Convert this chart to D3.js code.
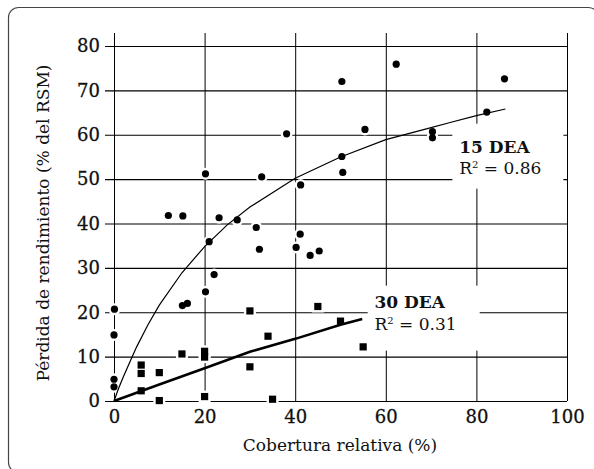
<!DOCTYPE html>
<html>
<head>
<meta charset="utf-8">
<script src="https://cdn.jsdelivr.net/npm/d3@7"></script>
<style>
  body { margin: 0; background: #fff; }
  text { font-family: "DejaVu Serif", serif; fill: #111; }
</style>
</head>
<body>
<div id="chart"></div>
<script>
// 15 DEA (circles)
var dea15 = [
  [0, 3.2], [0, 4.9], [0, 14.9], [0.1, 20.7], [12, 41.8], [15.2, 41.7],
  [15.1, 21.5], [16.2, 22.0], [20.2, 24.6], [20.2, 51.2], [21.0, 35.9],
  [22.1, 28.5], [23.2, 41.3], [27.2, 40.8], [31.4, 39.1], [32.1, 34.2],
  [32.6, 50.5], [38.1, 60.2], [40.2, 34.6], [41.1, 37.6], [41.2, 48.7],
  [43.3, 32.8], [45.3, 33.8], [50.3, 55.1], [50.5, 51.5], [50.3, 72.0],
  [55.4, 61.2], [62.3, 75.9], [70.3, 60.7], [70.3, 59.3], [82.3, 65.1],
  [86.2, 72.6]
];
// 30 DEA (squares)
var dea30 = [
  [6, 8.1], [6, 6.2], [6, 2.3], [10, 6.4], [10, 0.1], [15, 10.6],
  [20, 11.2], [20, 9.9], [20, 1.0], [30, 20.3], [30, 7.7], [34, 14.6],
  [35, 0.4], [45, 21.3], [50, 18.0], [55, 12.2]
];
// fitted curves
var fit15 = [
  [0, 0], [1, 2.8], [2, 5.3], [3.5, 8.8], [5, 12.2], [7.5, 17.2], [10, 21.6],
  [15, 28.9], [20, 34.8], [25, 39.7], [30, 43.7], [40, 50.2], [50, 55.0],
  [60, 58.9], [70, 61.6], [74, 62.7], [80, 64.3], [86.4, 65.8]
];
var fit30 = [
  [0, 0], [10, 3.7], [20, 7.4], [30, 11.1], [40, 14.0], [50, 17.2], [54.8, 18.5]
];
var xTicks = [0, 20, 40, 60, 80, 100];
var yTicks = [0, 10, 20, 30, 40, 50, 60, 70, 80];
var labels = [
  { name: "15 DEA", r2: "0.86" },
  { name: "30 DEA", r2: "0.31" }
];

var svgWidth = 594, svgHeight = 469;
var margin = { top: 46, left: 114 };
var width = 453, height = 355;

var svg = d3.select("#chart").append("svg")
  .attr("width", svgWidth)
  .attr("height", svgHeight);

// rounded frame
svg.append("rect")
  .attr("x", 8.5).attr("y", 7.5)
  .attr("width", 590).attr("height", 465)
  .attr("rx", 10)
  .attr("fill", "none")
  .attr("stroke", "#444")
  .attr("stroke-width", 1.2);

var g = svg.append("g")
  .attr("transform", `translate(${margin.left}, ${margin.top})`);

var x = d3.scaleLinear().domain([0, 100]).range([0, width]);
var y = d3.scaleLinear().domain([0, 80]).range([height, 0]);

// grid: horizontal lines with outward ticks
g.append("g")
  .attr("transform", "translate(-9,0)")
  .call(d3.axisLeft(y).tickValues(yTicks).tickSize(-(width + 9)).tickSizeOuter(0))
  .call(a => a.select(".domain").remove())
  .call(a => a.selectAll("line").attr("stroke", "#000").attr("stroke-width", 1.1))
  .call(a => a.selectAll("text").attr("font-size", 18).attr("x", -5)
    .attr("font-family", "DejaVu Serif").attr("fill", "#111")
    .attr("stroke", "#111").attr("stroke-width", 0.3));

// vertical lines
g.append("g")
  .attr("transform", `translate(0, ${height})`)
  .call(d3.axisBottom(x).tickValues(xTicks).tickSize(-(height + 13)).tickSizeOuter(0).tickPadding(9))
  .call(a => a.select(".domain").remove())
  .call(a => a.selectAll("line").attr("stroke", "#000"))
  .call(a => a.selectAll("text").attr("font-size", 18)
    .attr("font-family", "DejaVu Serif").attr("fill", "#111")
    .attr("stroke", "#111").attr("stroke-width", 0.3));

// white boxes behind the labels
var boxes = [
  { x0: 74.7, y0: 62.5, lx: 76.2, ly1: 55.95, ly2: 51.15, w: 111, h: 65 },
  { x0: 56.0, y0: 26.0, lx: 57.5, ly1: 20.9, ly2: 16.0, w: 112, h: 65 }
];
g.selectAll("rect.box").data(boxes).enter().append("rect")
  .attr("class", "box")
  .attr("x", d => x(d.x0)).attr("y", d => y(d.y0))
  .attr("width", d => d.w).attr("height", d => d.h)
  .attr("fill", "#fff");

// halos behind markers
g.selectAll("circle.halo").data(dea15).enter().append("circle")
  .attr("class", "halo")
  .attr("cx", d => x(d[0])).attr("cy", d => y(d[1]))
  .attr("r", 6).attr("fill", "#fff");
g.selectAll("rect.halo").data(dea30).enter().append("rect")
  .attr("class", "halo")
  .attr("x", d => x(d[0]) - 6).attr("y", d => y(d[1]) - 6)
  .attr("width", 12).attr("height", 12).attr("fill", "#fff");

var line = d3.line().x(d => x(d[0])).y(d => y(d[1]));

g.append("path").datum(fit15)
  .attr("d", line).attr("fill", "none")
  .attr("stroke", "#000").attr("stroke-width", 1.2);
g.append("path").datum(fit30)
  .attr("d", line).attr("fill", "none")
  .attr("stroke", "#000").attr("stroke-width", 2.6);

g.selectAll("circle.pt").data(dea15).enter().append("circle")
  .attr("class", "pt")
  .attr("cx", d => x(d[0])).attr("cy", d => y(d[1]))
  .attr("r", 3.6).attr("fill", "#000");
g.selectAll("rect.pt").data(dea30).enter().append("rect")
  .attr("class", "pt")
  .attr("x", d => x(d[0]) - 3.6).attr("y", d => y(d[1]) - 3.6)
  .attr("width", 7.2).attr("height", 7.2).attr("fill", "#000");

// series labels
labels.forEach(function(l, i) {
  var b = boxes[i];
  g.append("text")
    .attr("x", x(b.lx)).attr("y", y(b.ly1))
    .attr("font-size", 17).attr("font-weight", "bold")
    .text(l.name);
  var t = g.append("text")
    .attr("x", x(b.lx)).attr("y", y(b.ly2))
    .attr("font-size", 17);
  t.append("tspan").text("R");
  t.append("tspan").attr("font-size", 10).attr("dy", -6).text("2");
  t.append("tspan").attr("dy", 6).text(" = " + l.r2);
});

// axis titles
svg.append("text")
  .attr("x", 340).attr("y", 451)
  .attr("text-anchor", "middle")
  .attr("font-size", 17)
  .text("Cobertura relativa (%)");

svg.append("text")
  .attr("transform", "translate(49, 223) rotate(-90)")
  .attr("text-anchor", "middle")
  .attr("font-size", 17)
  .text("Pérdida de rendimiento (% del RSM)");
</script>
</body>
</html>
